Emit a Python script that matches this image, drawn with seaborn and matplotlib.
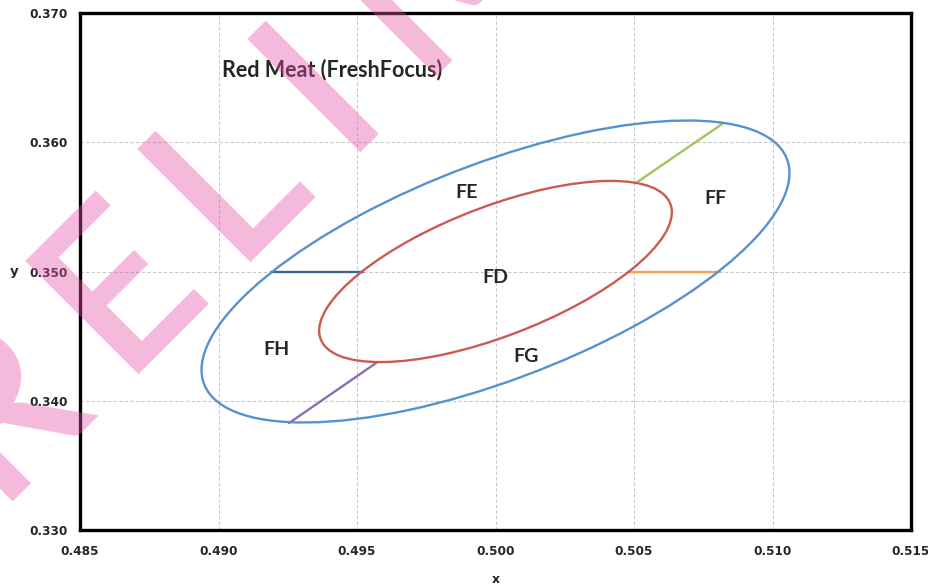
import numpy as np
import pandas as pd
import matplotlib
matplotlib.use('Agg')
import matplotlib.pyplot as plt
from matplotlib.patches import Ellipse
from matplotlib.ticker import MultipleLocator, FormatStrFormatter
import seaborn as sns

# ellipse centre and shape (data units)
center_x = 0.5000
center_y = 0.3500
tilt_deg = 49.2
inner_axes = [0.00862, 0.00392]   # semi-major, semi-minor of the FD boundary
outer_axes = [0.01436, 0.00655]   # semi-major, semi-minor of the outer boundary

# divider lines between the outer regions
seg_names = ['left', 'right', 'upper', 'lower']
seg_x0 = [0.4919, 0.5048, 0.50507, 0.49255]
seg_x1 = [0.4952, 0.5081, 0.50818, 0.49569]
seg_y0 = [0.3500, 0.3500, 0.35685, 0.33828]
seg_y1 = [0.3500, 0.3500, 0.36141, 0.34292]

region_labels = ['FD', 'FE', 'FF', 'FG', 'FH']
label_x = [0.49998, 0.49897, 0.50793, 0.50110, 0.49211]
label_y = [0.34950, 0.35608, 0.35562, 0.34339, 0.34393]

x_ticks = [0.485, 0.490, 0.495, 0.500, 0.505, 0.510, 0.515]
y_ticks = [0.330, 0.340, 0.350, 0.360, 0.370]

title_text = 'Red Meat (FreshFocus)'
title_x, title_y = 0.49013, 0.36560

watermark = 'PRELIMINARY'

sns.set_style('white')
plt.rcParams['font.family'] = ['DejaVu Sans']

W, H = 929, 586
fig = plt.figure(figsize=(W / 100, H / 100), dpi=100)
ax = fig.add_axes([80 / W, 1 - 530 / H, 831 / W, 517 / H])

# the two boundary ellipses
ax.add_patch(Ellipse((center_x, center_y), 2 * outer_axes[0], 2 * outer_axes[1], angle=tilt_deg,
                     fill=False, ec='#5592d0', lw=1.7, zorder=3))
ax.add_patch(Ellipse((center_x, center_y), 2 * inner_axes[0], 2 * inner_axes[1], angle=tilt_deg,
                     fill=False, ec='#cc5a52', lw=1.7, zorder=3))

# divider segments
rows = []
for n, xa, xb, ya, yb in zip(seg_names, seg_x0, seg_x1, seg_y0, seg_y1):
    rows.append((n, xa, ya))
    rows.append((n, xb, yb))
seg_df = pd.DataFrame(rows, columns=['seg', 'x', 'y'])
seg_colors = {'left': '#3c6794', 'right': '#f7a04f', 'upper': '#9fc55e', 'lower': '#8a6fb0'}
sns.lineplot(data=seg_df, x='x', y='y', hue='seg', palette=seg_colors, sort=False,
             estimator=None, lw=1.7, legend=False, ax=ax, zorder=2)

for lab, lx, ly in zip(region_labels, label_x, label_y):
    ax.text(lx, ly, lab, ha='center', va='center', fontsize=14, fontweight='bold', family='Lato')

ax.text(title_x, title_y, title_text, ha='left', va='center', fontsize=15.5, fontweight='bold', family='Lato')

ax.set_xlim(x_ticks[0], x_ticks[-1])
ax.set_ylim(y_ticks[0], y_ticks[-1])
ax.set_xticks(x_ticks)
ax.set_yticks(y_ticks)
ax.xaxis.set_major_formatter(FormatStrFormatter('%.3f'))
ax.yaxis.set_major_formatter(FormatStrFormatter('%.3f'))
ax.xaxis.set_minor_locator(MultipleLocator(0.001))
ax.yaxis.set_minor_locator(MultipleLocator(0.002))
ax.tick_params(which='major', direction='out', length=4, width=1, color='#808080', pad=5)
ax.tick_params(axis='x', which='major', pad=7)
ax.tick_params(which='minor', direction='in', length=4, width=0.8, color='#a0a0a0')
for t in ax.get_xticklabels() + ax.get_yticklabels():
    t.set_fontweight('bold')
    t.set_fontsize(8.7)

ax.grid(True, which='major', color='#c8c8c8', ls=(0, (3, 2)), lw=0.8)
for s in ax.spines.values():
    s.set_color('black')
    s.set_linewidth(2.4)

ax.set_xlabel('x', fontweight='bold', fontsize=9)
ax.set_ylabel('y', fontweight='bold', fontsize=9.5, rotation=0)
ax.xaxis.set_label_coords(0.5, -0.083)
ax.yaxis.set_label_coords(-0.079, 0.5)
ax.yaxis.label.set_va('center')

# watermark over the whole chart, letters spread along a 45 degree line
base_px, base_py = 134, 360          # baseline point under the "E"
letter_pos = [-350, -179, 0, 158, 314, 421, 652, 752, 952, 1110, 1280]
ux, uy = np.cos(np.radians(45)), np.sin(np.radians(45))
lsb = 20
for ch, s in zip(watermark, letter_pos):
    px = base_px + (s - lsb) * ux
    py = base_py - (s - lsb) * uy
    fig.text(px / W, 1 - py / H, ch, rotation=45, rotation_mode='anchor', ha='left', va='baseline',
             fontsize=160, family='Lato', fontweight='semibold', color='#e650a7', alpha=0.4, zorder=10)

fig.savefig('out.png', dpi=100)
